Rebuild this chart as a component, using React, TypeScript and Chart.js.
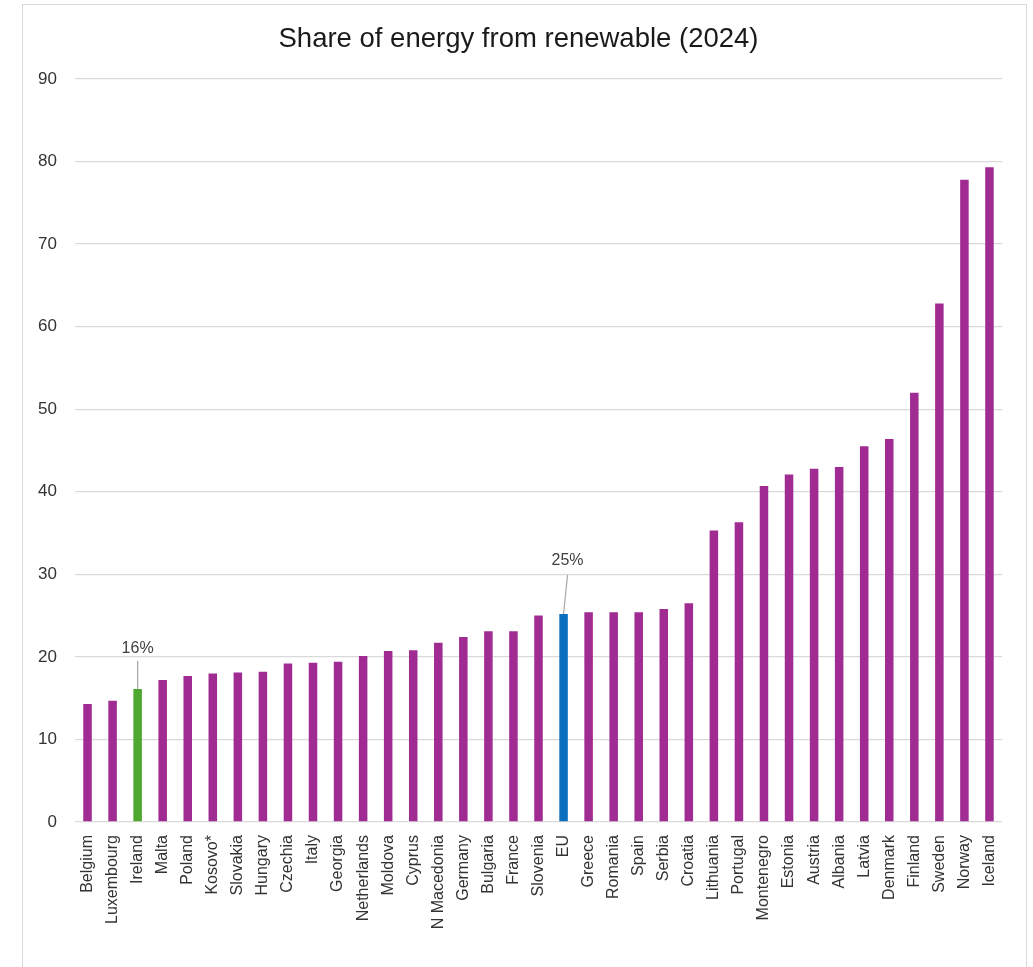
import React, { useEffect, useRef } from "react";
import { Chart, registerables } from "chart.js";

Chart.register(...registerables);

const countries: string[] = [
  "Belgium", "Luxembourg", "Ireland", "Malta", "Poland", "Kosovo*", "Slovakia", "Hungary",
  "Czechia", "Italy", "Georgia", "Netherlands", "Moldova", "Cyprus", "N Macedonia", "Germany",
  "Bulgaria", "France", "Slovenia", "EU", "Greece", "Romania", "Spain", "Serbia", "Croatia",
  "Lithuania", "Portugal", "Montenegro", "Estonia", "Austria", "Albania", "Latvia", "Denmark",
  "Finland", "Sweden", "Norway", "Iceland",
];

const renewableShare: number[] = [
  14.3, 14.7, 16.1, 17.2, 17.7, 18.0, 18.1, 18.2,
  19.2, 19.3, 19.4, 20.1, 20.7, 20.8, 21.7, 22.4,
  23.1, 23.1, 25.0, 25.2, 25.4, 25.4, 25.4, 25.8, 26.5,
  35.3, 36.3, 40.7, 42.1, 42.8, 43.0, 45.5, 46.4,
  52.0, 62.8, 77.8, 79.3,
];

const highlightCountries: string[] = ["Ireland", "EU"];
const highlightLabels: string[] = ["16%", "25%"];
const yTicks: number[] = [0, 10, 20, 30, 40, 50, 60, 70, 80, 90];

const PURPLE = "#A02B93";
const GREEN = "#4EA72E";
const BLUE = "#0A6FBF";

const barColors = countries.map((c) =>
  c === "Ireland" ? GREEN : c === "EU" ? BLUE : PURPLE
);

// label offsets above bar top (pixels): [labelGap, lineLength, lineDx]
const calloutStyle: Record<string, [number, number, number]> = {
  Ireland: [40, 28, 0],
  EU: [53, 39, 4],
};

const calloutPlugin = {
  id: "callouts",
  afterDatasetsDraw(chart: any) {
    const meta = chart.getDatasetMeta(0);
    const ctx = chart.ctx;
    ctx.save();
    highlightCountries.forEach((name, i) => {
      const idx = countries.indexOf(name);
      const el = meta.data[idx];
      if (!el) return;
      const [gap, len, dx] = calloutStyle[name];
      ctx.strokeStyle = "#A6A6A6";
      ctx.lineWidth = 1.2;
      ctx.beginPath();
      ctx.moveTo(el.x, el.y);
      ctx.lineTo(el.x + dx, el.y - len);
      ctx.stroke();
      ctx.fillStyle = "#404040";
      ctx.font = "16px 'Liberation Sans', Arial, sans-serif";
      ctx.textAlign = "center";
      ctx.textBaseline = "middle";
      ctx.fillText(highlightLabels[i], el.x + dx, el.y - gap);
    });
    ctx.restore();
  },
};

export default function App() {
  const canvasRef = useRef<HTMLCanvasElement | null>(null);

  useEffect(() => {
    if (!canvasRef.current) return;
    const chart = new Chart(canvasRef.current, {
      type: "bar",
      data: {
        labels: countries,
        datasets: [
          {
            data: renewableShare,
            backgroundColor: barColors,
            borderWidth: 0,
            categoryPercentage: 1,
            barPercentage: 0.34,
          },
        ],
      },
      options: {
        animation: false,
        responsive: false,
        layout: { padding: { left: 35, right: 31, top: 0, bottom: 25 } },
        plugins: {
          legend: { display: false },
          tooltip: { enabled: false },
          title: {
            display: true,
            text: "Share of energy from renewable (2024)",
            color: "#1a1a1a",
            font: { family: "'Liberation Sans', Arial, sans-serif", size: 27.5, weight: "normal", lineHeight: 1.2 },
            padding: { top: 23, bottom: 23 },
          },
        },
        scales: {
          x: {
            grid: { display: false },
            border: { display: false },
            ticks: {
              autoSkip: false,
              maxRotation: 90,
              minRotation: 90,
              padding: 5,
              color: "#333333",
              font: { family: "'Liberation Sans', Arial, sans-serif", size: 16 },
            },
            afterFit: (s: any) => {
              s.height = 120;
            },
          },
          y: {
            min: 0,
            max: 90,
            afterBuildTicks: (s: any) => {
              s.ticks = yTicks.map((v) => ({ value: v }));
            },
            grid: { color: "#D9D9D9", lineWidth: 1.3, drawTicks: false },
            border: { display: false },
            ticks: {
              padding: 18,
              color: "#333333",
              font: { family: "'Liberation Sans', Arial, sans-serif", size: 17 },
            },
            afterFit: (s: any) => {
              s.width = 40;
            },
          },
        },
      },
      plugins: [calloutPlugin],
    });
    return () => chart.destroy();
  }, []);

  return (
    <div
      style={{
        position: "fixed",
        left: 0,
        top: 0,
        width: 1033,
        height: 967,
        overflow: "hidden",
        background: "#ffffff",
      }}
    >
      <div
        style={{
          position: "absolute",
          left: 22,
          top: 4,
          width: 1005,
          height: 1100,
          border: "1px solid #D9D9D9",
          boxSizing: "border-box",
        }}
      />
      <canvas
        ref={canvasRef}
        width={1033}
        height={967}
        style={{ position: "absolute", left: 0, top: 0, display: "block" }}
      />
    </div>
  );
}
